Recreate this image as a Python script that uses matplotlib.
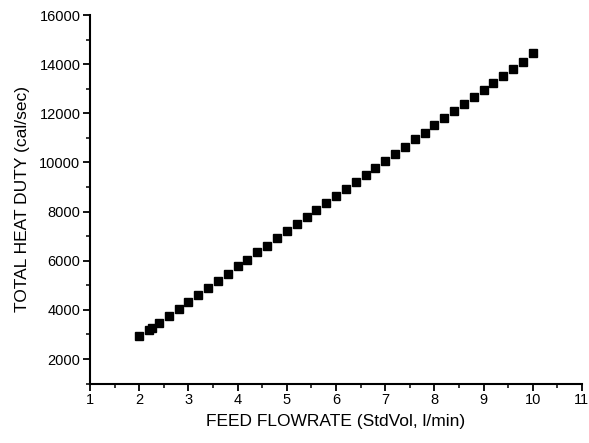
import matplotlib.pyplot as plt
from matplotlib.ticker import MultipleLocator

plt.rcParams['font.family'] = ['Liberation Sans', 'DejaVu Sans']

# feed flowrate (StdVol, l/min)
flowrate = [2.0, 2.2, 2.25, 2.4, 2.6, 2.8, 3.0, 3.2, 3.4, 3.6, 3.8,
            4.0, 4.2, 4.4, 4.6, 4.8, 5.0, 5.2, 5.4, 5.6, 5.8,
            6.0, 6.2, 6.4, 6.6, 6.8, 7.0, 7.2, 7.4, 7.6, 7.8,
            8.0, 8.2, 8.4, 8.6, 8.8, 9.0, 9.2, 9.4, 9.6, 9.8, 10.0]

# total heat duty (cal/sec)
heat_duty = [2940, 3180, 3260, 3460, 3740, 4030, 4340, 4620, 4900, 5190, 5480,
             5770, 6050, 6340, 6620, 6910, 7200, 7490, 7780, 8060, 8350,
             8640, 8930, 9210, 9500, 9790, 10080, 10360, 10650, 10940, 11220,
             11510, 11800, 12090, 12370, 12660, 12950, 13240, 13520, 13810, 14100, 14450]

fig = plt.figure(figsize=(5.89, 4.43), dpi=100)
ax = fig.add_axes([0.153, 0.134, 0.835, 0.832])

ax.plot(flowrate, heat_duty, linestyle='none', marker='s', markersize=5.5,
        color='black')

ax.set_xlim(1, 11)
ax.set_ylim(1000, 16000)
ax.xaxis.set_major_locator(MultipleLocator(1))
ax.xaxis.set_minor_locator(MultipleLocator(0.5))
ax.yaxis.set_major_locator(MultipleLocator(2000))
ax.yaxis.set_minor_locator(MultipleLocator(1000))
ax.set_yticks(range(2000, 16001, 2000))

for side in ['top', 'right']:
    ax.spines[side].set_visible(False)
for side in ['left', 'bottom']:
    ax.spines[side].set_linewidth(1.5)

ax.tick_params(which='major', direction='out', length=5, width=1.3,
               labelsize=10.5, pad=2)
ax.tick_params(which='minor', direction='out', length=3, width=1.1)

ax.set_xlabel('FEED FLOWRATE (StdVol, l/min)', fontsize=12.5, labelpad=5)
ax.set_ylabel('TOTAL HEAT DUTY (cal/sec)', fontsize=12.5, labelpad=7)

fig.savefig('out.png', dpi=100)
